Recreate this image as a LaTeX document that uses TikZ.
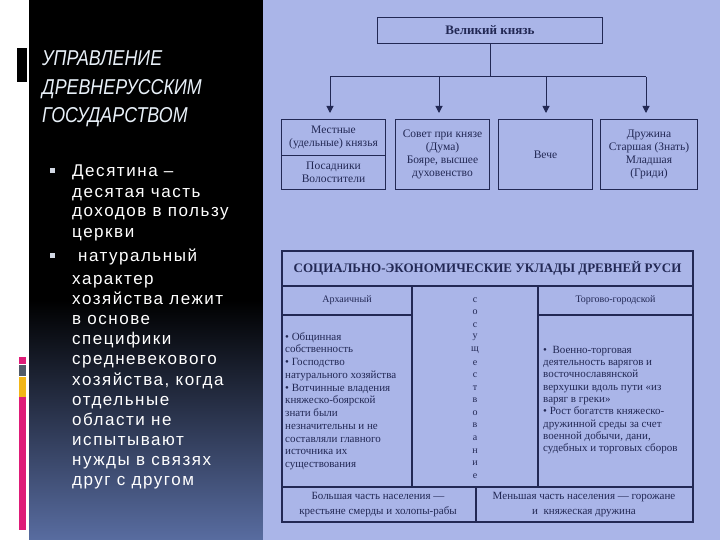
\documentclass[tikz,border=0pt]{standalone}
\usepackage{fontspec}
\setmainfont{Liberation Serif}
\newfontfamily\bodyfont[LetterSpace=9]{Liberation Sans}
\newfontfamily\titlefont[FakeStretch=0.83]{Liberation Sans Italic}
\usetikzlibrary{arrows.meta}
\definecolor{ink}{RGB}{34,40,84}
\definecolor{paper}{RGB}{170,181,232}
\definecolor{navy}{RGB}{88,108,160}
\definecolor{mag}{RGB}{222,28,120}
\definecolor{orng}{RGB}{242,182,24}
\definecolor{slate}{RGB}{80,90,104}
\definecolor{ltxt}{RGB}{232,240,248}
\definecolor{bulc}{RGB}{210,216,228}
\begin{document}
\begin{tikzpicture}[x=1pt,y=-1pt,
 tab/.style={draw=ink,line width=1.3pt},
 ln/.style={draw=ink,line width=1pt},
 box/.style={draw=ink,line width=1pt,inner sep=0pt,anchor=north west,align=center,text=ink,font=\fontsize{11.5}{13}\selectfont},
 arr/.style={draw=ink,line width=1pt,-{Triangle[width=7pt,length=7pt]},shorten >=6pt},
 ttl/.style={anchor=base west,inner sep=0pt,text=ltxt,font=\titlefont\fontsize{21.5}{24}\selectfont},
 btxt/.style={anchor=base west,inner sep=0pt,text=white,font=\bodyfont\fontsize{17}{20}\selectfont},
 bul/.style={fill=bulc,minimum size=5pt,inner sep=0pt},
 ctxt/.style={anchor=base west,inner sep=0pt,text=ink,font=\fontsize{11}{12.5}\selectfont},
 cell/.style={inner sep=0pt,text=ink,align=center,font=\fontsize{11}{15}\selectfont},
 vlet/.style={inner sep=0pt,text=ink,font=\fontsize{10}{12}\selectfont}]
\useasboundingbox (0,0) rectangle (720,540);
% backgrounds
\fill[white] (0,0) rectangle (29,540);
\fill[black] (29,0) rectangle (263,300);
\shade[top color=black,bottom color=navy] (29,300) rectangle (263,540);
\fill[paper] (263,0) rectangle (720,540);
% left decorations
\fill[black] (17,48) rectangle (27,82);
\fill[mag] (19,357) rectangle (26,364);
\fill[slate] (19,365) rectangle (26,376);
\fill[orng] (19,377) rectangle (26,397);
\fill[mag] (19,397) rectangle (26,530);
% title
\node[ttl] (t1) at (42,66) {УПРАВЛЕНИЕ};
\node[ttl] (t2) at (42,94.5) {ДРЕВНЕРУССКИМ};
\node[ttl] (t3) at (42,122.5) {ГОСУДАРСТВОМ};
% bullets
\node[bul] (bu1) at (52.5,170.5) {};
\node[bul] (bu2) at (52.5,255.5) {};
\foreach \t [count=\i from 0] in {Десятина –, десятая часть, доходов в пользу, церкви}
  \node[btxt] (p\i) at (72,177+20*\i) {\t};
\node[btxt] (q0) at (78,261.7) {натуральный};
\foreach \t [count=\i from 1] in {характер, хозяйства лежит, в основе, специфики, средневекового, {хозяйства, когда}, отдельные, области не, испытывают, нужды в связях, друг с другом}
  \node[btxt] (q\i) at (72,284.7+20.07*\i-20.07) {\t};
% hierarchy
\node[box,minimum width=225pt,minimum height=26pt,font=\bfseries\fontsize{13}{15}\selectfont] (vk) at (377,17) {Великий князь};
\node[box,minimum width=104pt,minimum height=36pt] (b1a) at (281,119) {Местные\\(удельные) князья};
\node[box,minimum width=104pt,minimum height=34pt] (b1b) at (281,155) {Посадники\\Волостители};
\node[box,minimum width=94pt,minimum height=70pt] (b2) at (395,119) {Совет при князе\\(Дума)\\Бояре, высшее\\духовенство};
\node[box,minimum width=94pt,minimum height=70pt] (b3) at (498,119) {Вече};
\node[box,minimum width=97pt,minimum height=70pt] (b4) at (600,119) {Дружина\\Старшая (Знать)\\Младшая\\(Гриди)};
\coordinate (j0) at (vk.south |- 0,77);
\coordinate (j1) at (330,77);
\coordinate (j2) at (439,77);
\coordinate (j3) at (546,77);
\coordinate (j4) at (646,77);
\draw[ln] (vk.south) -- (j0);
\draw[ln] (j1) -- (j4);
\draw[arr] (j1) -- (j1 |- b1a.north);
\draw[arr] (j2) -- (j2 |- b2.north);
\draw[arr] (j3) -- (j3 |- b3.north);
\draw[arr] (j4) -- (j4 |- b4.north);
% table
\draw[tab] (282,251) rectangle (693,522);
\draw[tab] (282,286) -- (693,286);
\draw[tab] (412,286) -- (412,487);
\draw[tab] (538,286) -- (538,487);
\draw[tab] (282,315) -- (412,315);
\draw[tab] (538,315) -- (693,315);
\draw[tab] (282,487) -- (693,487);
\draw[tab] (476,487) -- (476,522);
\node[cell,font=\bfseries\fontsize{13}{15}\selectfont] (tt) at (487.5,268.5) {СОЦИАЛЬНО-ЭКОНОМИЧЕСКИЕ УКЛАДЫ ДРЕВНЕЙ РУСИ};
\node[cell,font=\fontsize{10}{12}\selectfont] (h1) at (347,300.5) {Архаичный};
\node[cell,font=\fontsize{10}{12}\selectfont] (h3) at (615.5,300) {Торгово-городской};
\foreach \c [count=\i from 0] in {с,о,с,у,щ,е,с,т,в,о,в,а,н,и,е}
  \node[vlet] (v\i) at (475,300+12.57*\i) {\c};
\foreach \t [count=\i from 0] in {• Общинная, собственность, • Господство, натурального хозяйства, • Вотчинные владения, княжеско-боярской, знати были, незначительны и не, составляли главного, источника их, существования}
  \node[ctxt] (a\i) at (285,340+12.76*\i) {\t};
\foreach \t [count=\i from 0] in {•~ Военно-торговая, деятельность варягов и, восточнославянской, верхушки вдоль пути «из, варяг в греки», • Рост богатств княжеско-, дружинной среды за счет, {военной добычи, дани,}, судебных и торговых сборов}
  \node[ctxt] (c\i) at (543,353.3+12.3*\i) {\t};
\node[cell] (f1) at (378,504.8) {Большая часть населения —\\крестьяне смерды и холопы-рабы};
\node[cell] (f2) at (584,504.8) {Меньшая часть населения — горожане\\и~ княжеская дружина};
\end{tikzpicture}
\end{document}
